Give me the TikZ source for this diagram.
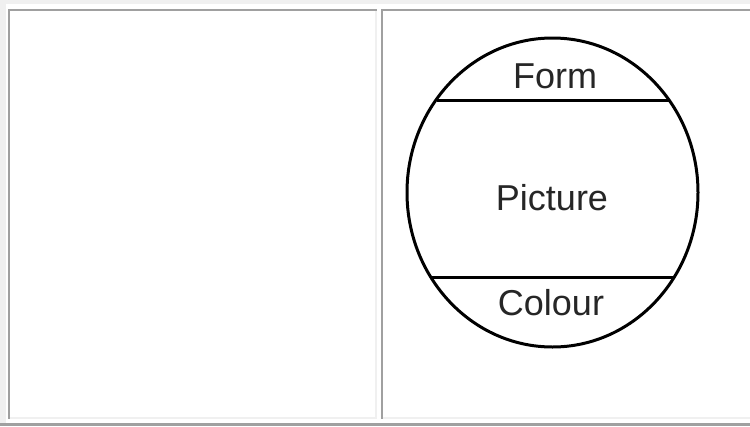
\documentclass[tikz,border=0pt]{standalone}
\usepackage{fontspec}
\setmainfont{Liberation Sans}
\usetikzlibrary{shapes.geometric}
\definecolor{lightb}{HTML}{F0F0F0}
\definecolor{darkb}{HTML}{A0A0A0}
\begin{document}
\begin{tikzpicture}[x=1pt,y=-1pt,
 light/.style={fill=lightb,draw=none},
 dark/.style={fill=darkb,draw=none},
 ink/.style={draw=black,line width=3pt},
 lbl/.style={font=\fontsize{36}{40}\selectfont,text=black!85,anchor=base,inner sep=0pt}]
\useasboundingbox (0,0) rectangle (750,426);
\fill[white] (0,0) rectangle (750,426);
% outer table border
\fill[light] (0,0) rectangle (750,4);
\fill[light] (0,0) rectangle (6,423);
\fill[dark] (0,423) rectangle (750,426);
% cell 1
\fill[dark] (8,9) rectangle (377,11);
\fill[dark] (8,9) rectangle (10,419);
\fill[light] (375,11) rectangle (377,419);
\fill[light] (10,417) rectangle (377,419);
% cell 2
\fill[dark] (381,9) rectangle (750,11);
\fill[dark] (381,9) rectangle (383,419);
\fill[light] (383,417) rectangle (750,419);
% globe
\node[ink, ellipse, minimum width=291pt, minimum height=309pt, inner sep=0pt] (globe) at (552.5,192.5) {};
\coordinate (t1) at (437,100);
\coordinate (t2) at (669,100);
\coordinate (b1) at (432,277);
\coordinate (b2) at (674,277);
\draw[ink] (t1) -- (t2);
\draw[ink] (b1) -- (b2);
\node[lbl] (form) at (555,88) {Form};
\node[lbl] (picture) at (552,210) {Picture};
\node[lbl] (colour) at (551,315) {Colour};
\end{tikzpicture}
\end{document}
